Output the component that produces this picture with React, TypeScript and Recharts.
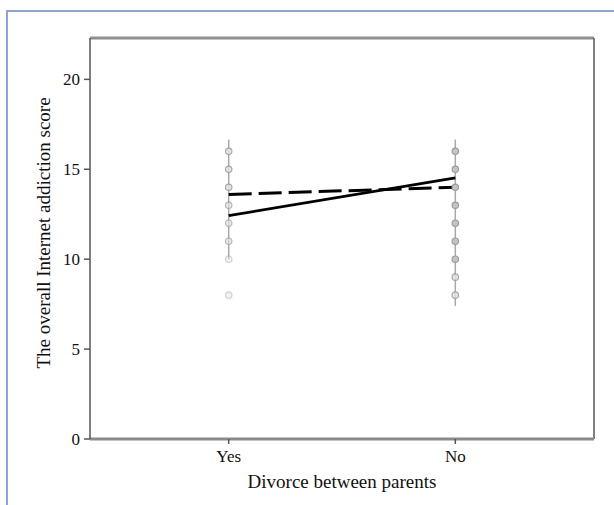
import React from 'react';
import { ComposedChart, Line, Scatter, XAxis, YAxis, Label, ReferenceLine } from 'recharts';

// Interaction plot: internet addiction score by parental divorce
const categories = ['Yes', 'No'];
const categoryX = [1, 2];
const yTicks = [0, 5, 10, 15, 20];
const xDomain = [0.388, 2.612];
const yDomain = [0, 22.3];

// observed scores (jittered strip) and a rough density weight per score
const yesScores = [16, 15, 14, 13, 12, 11, 10, 8];
const yesCounts = [3, 3, 3, 2, 2, 2, 1, 1];
const noScores = [16, 15, 14, 13, 12, 11, 10, 9, 8];
const noCounts = [4, 4, 4, 4, 4, 4, 4, 3, 3];

// whisker ranges (top, bottom) per group
const yesRange = [16.65, 10];
const noRange = [16.65, 7.4];

// group means for two series
const solidMeans = [12.42, 14.52];
const dashedMeans = [13.6, 14.0];

const F = '"Liberation Serif", "Times New Roman", serif';

const yesPts = yesScores.map((s, i) => ({ x: categoryX[0], y: s, n: yesCounts[i] }));
const noPts = noScores.map((s, i) => ({ x: categoryX[1], y: s, n: noCounts[i] }));
const solidData = categoryX.map((x, i) => ({ x, y: solidMeans[i] }));
const dashedData = categoryX.map((x, i) => ({ x, y: dashedMeans[i] }));
const yesWhisker = yesRange.map(y => ({ x: categoryX[0], y }));
const noWhisker = noRange.map(y => ({ x: categoryX[1], y }));

function Dot(props: any) {
  const { cx, cy, payload } = props;
  if (cx == null || cy == null) return null;
  const n = payload.n;
  const op = n >= 4 ? 1 : n === 3 ? 0.85 : n === 2 ? 0.7 : 0.45;
  return (
    <circle
      cx={cx}
      cy={cy}
      r={3.2}
      fill={n >= 4 ? '#c4c4c4' : '#e2e2e2'}
      stroke="#9c9c9c"
      strokeWidth={1.2}
      opacity={op}
    />
  );
}

const tickStyle = { fontSize: 17, fill: '#111', fontFamily: F };

const YTitle = () => (
  <text
    x={43}
    y={233}
    transform="rotate(-90 43 233)"
    textAnchor="middle"
    dominantBaseline="central"
    style={{ fontSize: 19, fill: '#111', fontFamily: F }}
  >
    The overall Internet addiction score
  </text>
);

export default function App() {
  return (
    <div style={{ position: 'absolute', left: 0, top: 0, width: 614, height: 505, background: '#fff' }}>
      <div
        style={{
          position: 'absolute',
          left: 6,
          top: 10,
          right: 0,
          bottom: 0,
          borderLeft: '2px solid #8ea5cf',
          borderTop: '2px solid #8ea5cf',
        }}
      />
      <ComposedChart
        width={614}
        height={505}
        margin={{ top: 38, right: 20, bottom: 36, left: 40 }}
        style={{ position: 'absolute', left: 0, top: 0 }}
      >
        <XAxis
          xAxisId="main"
          type="number"
          dataKey="x"
          domain={xDomain}
          ticks={categoryX}
          tickFormatter={(v: number) => categories[categoryX.indexOf(v)] ?? ''}
          height={30}
          tickSize={5}
          tickMargin={6}
          tick={tickStyle}
          axisLine={{ stroke: '#8a8a8a', strokeWidth: 3 }}
          tickLine={{ stroke: '#555', strokeWidth: 1.5 }}
        >
          <Label
            value="Divorce between parents"
            position="bottom"
            offset={6}
            style={{ fontSize: 19, fill: '#111', fontFamily: F }}
          />
        </XAxis>
        <YAxis
          yAxisId="main"
          type="number"
          dataKey="y"
          domain={yDomain}
          ticks={yTicks}
          width={50}
          tickSize={6}
          tickMargin={4}
          tick={tickStyle}
          axisLine={{ stroke: '#555', strokeWidth: 1.5 }}
          tickLine={{ stroke: '#555', strokeWidth: 1.5 }}
        >
          <Label content={<YTitle />} />
        </YAxis>

        {/* plot frame: top and right edges */}
        <ReferenceLine xAxisId="main" yAxisId="main" y={yDomain[1]} stroke="#8f8f8f" strokeWidth={3} />
        <ReferenceLine xAxisId="main" yAxisId="main" x={xDomain[1]} stroke="#555" strokeWidth={1.5} />

        <Line xAxisId="main" yAxisId="main" data={yesWhisker} dataKey="y" stroke="#a8a8a8" strokeWidth={1.5} dot={false} isAnimationActive={false} />
        <Line xAxisId="main" yAxisId="main" data={noWhisker} dataKey="y" stroke="#a8a8a8" strokeWidth={1.5} dot={false} isAnimationActive={false} />
        <Scatter xAxisId="main" yAxisId="main" data={yesPts} dataKey="y" shape={<Dot />} isAnimationActive={false} />
        <Scatter xAxisId="main" yAxisId="main" data={noPts} dataKey="y" shape={<Dot />} isAnimationActive={false} />
        <Line xAxisId="main" yAxisId="main" data={dashedData} dataKey="y" stroke="#000" strokeWidth={3} strokeDasharray="23 7" dot={false} isAnimationActive={false} />
        <Line xAxisId="main" yAxisId="main" data={solidData} dataKey="y" stroke="#000" strokeWidth={2.8} dot={false} isAnimationActive={false} />
      </ComposedChart>
    </div>
  );
}
